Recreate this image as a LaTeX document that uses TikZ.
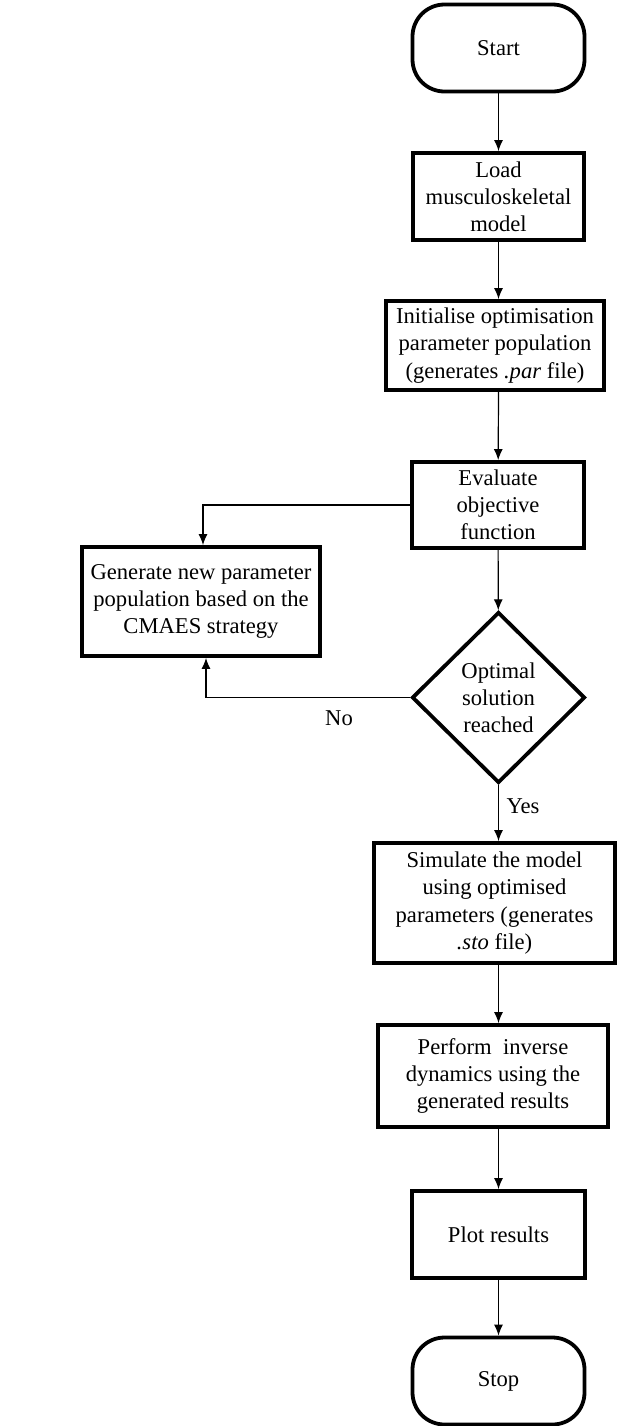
\documentclass[tikz,border=0pt]{standalone}
\usepackage{fontspec}
\setmainfont{Liberation Serif}
\usetikzlibrary{shapes.geometric,arrows.meta}
\begin{document}
\begin{tikzpicture}[x=0.5pt,y=-0.5pt,font=\fontsize{11.3}{13.6}\selectfont]
\tikzstyle{block}=[draw,line width=1.9pt,align=center,inner sep=0pt]
\tikzstyle{term}=[block,rounded corners=16pt,minimum width=86pt,minimum height=43.5pt]
\tikzstyle{decision}=[block,diamond,minimum width=86.5pt,minimum height=85.5pt]
\tikzstyle{link}=[line width=0.6pt,-{Latex[length=5.5pt,width=4.5pt]}]
\useasboundingbox (0,0) rectangle (619,1426);
\node[term] (start) at (498.5,48) {Start};
\node[block,minimum width=85.5pt,minimum height=43.5pt] (load) at (498.5,196.5) {Load\\musculoskeletal\\model};
\node[block,minimum width=109pt,minimum height=44.5pt] (init) at (495,345.5) {Initialise optimisation\\parameter population\\(generates \textit{.par} file)};
\node[block,minimum width=86pt,minimum height=43pt] (eval) at (498,505) {Evaluate\\objective\\function};
\node[block,minimum width=119pt,minimum height=54.5pt] (gen) at (201,601.5) {Generate new parameter\\population based on the\\CMAES strategy};
\node[decision] (opt) at (498.5,697.5) {Optimal\\solution\\reached};
\node[block,minimum width=120.5pt,minimum height=60pt] (sim) at (494.5,903) {Simulate the model\\using optimised\\parameters (generates\\\textit{.sto} file)};
\node[block,minimum width=115pt,minimum height=51pt] (perf) at (493,1076) {Perform~ inverse\\dynamics using the\\generated results};
\node[block,minimum width=86.5pt,minimum height=43.5pt] (plot) at (498.5,1234.5) {Plot results};
\node[term] (stop) at (498.5,1381) {Stop};
\node (no) at (339,718) {No};
\node (yes) at (523,806) {Yes};
\draw[link] (start) -- (load);
\draw[link] (load) -- (load|-init.north);
\draw[link] (init.south-|load) -- (eval);
\draw[link] (eval) -- (opt);
\draw[link] (eval.west) -| ([xshift=1pt]gen.north);
\draw[link] (opt.west) -| ([xshift=2.5pt]gen.south);
\draw[link] (opt) -- (opt|-sim.north);
\draw[link] (sim.south-|opt) -- (opt|-perf.north);
\draw[link] (perf.south-|opt) -- (plot);
\draw[link] (plot) -- (stop);
\end{tikzpicture}
\end{document}
